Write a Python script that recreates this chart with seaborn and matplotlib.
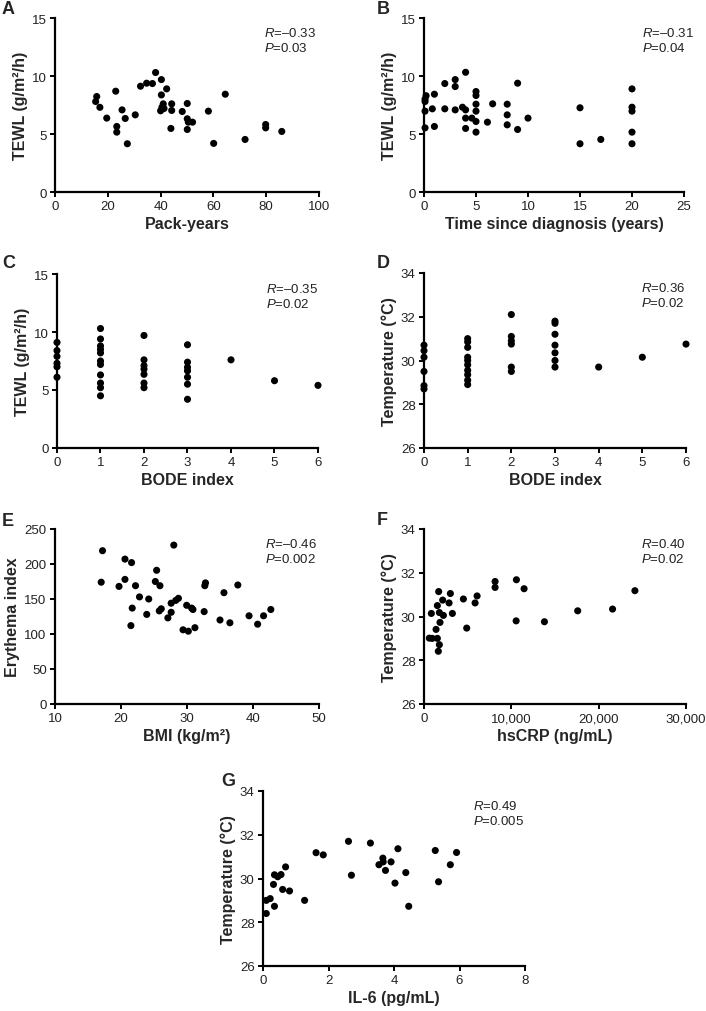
import seaborn as sns
import matplotlib
matplotlib.use("Agg")
import matplotlib.pyplot as plt
from matplotlib.ticker import FuncFormatter
import pandas as pd

# A: pack-years vs TEWL
pack_years = [15.8, 15.4, 17.0, 19.6, 23.0, 23.4, 23.4, 25.4, 26.6, 27.4, 30.4, 32.4, 34.7, 36.9, 38.1,
              40.3, 40.3, 42.3, 40.0, 40.5, 41.0, 41.3, 44.2, 44.2, 43.9, 48.2, 50.1, 50.1, 50.5, 50.1,
              52.1, 58.1, 60.1, 64.5, 72.0, 79.8, 79.8, 85.9]
tewl_a = [8.23, 7.8, 7.3, 6.37, 8.69, 5.65, 5.16, 7.08, 6.34, 4.16, 6.65, 9.12, 9.38, 9.35, 10.3,
          9.69, 8.37, 8.89, 7.0, 7.3, 7.6, 7.2, 7.6, 7.03, 5.48, 6.94, 7.63, 6.31, 6.02, 5.39,
          6.02, 6.97, 4.19, 8.43, 4.53, 5.82, 5.53, 5.22]

# B: time since diagnosis vs TEWL
years_dx = [0.2, 0.1, 0.1, 0.1, 0.1, 1, 0.8, 1, 2, 2, 3, 3, 3, 4, 3.7, 4, 4, 4, 4.6,
            5, 5, 5, 5, 5, 5, 6.1, 6.6, 8, 8, 8, 9, 9, 10, 15, 15, 17, 20, 20, 20, 20, 20]
tewl_b = [8.3, 8.0, 7.8, 6.97, 5.53, 8.43, 7.17, 5.65, 9.35, 7.17, 9.69, 9.09, 7.08, 10.32, 7.31,
          7.08, 6.37, 5.48, 6.37, 6.08, 8.66, 8.32, 7.57, 6.97, 5.16, 6.02, 7.6, 7.57, 6.65, 5.79,
          9.38, 5.39, 6.37, 7.26, 4.16, 4.53, 8.89, 7.31, 6.97, 5.16, 4.16]

# C: BODE index vs TEWL
bode_c = [0, 0, 0, 0, 0, 0,
          1, 1, 1, 1, 1, 1, 1, 1, 1, 1, 1,
          2, 2, 2, 2, 2, 2, 2,
          3, 3, 3, 3, 3, 3, 3,
          4, 5, 6]
tewl_c = [9.1, 8.4, 7.9, 7.3, 7.0, 6.1,
          10.3, 9.4, 8.8, 8.5, 8.2, 7.5, 7.2, 6.3, 5.6, 5.2, 4.5,
          9.7, 7.6, 7.1, 6.8, 6.35, 5.6, 5.2,
          8.9, 7.4, 6.95, 6.65, 6.1, 5.5, 4.2,
          7.6, 5.8, 5.4]

# D: BODE index vs temperature
bode_d = [0, 0, 0, 0, 0, 0,
          1, 1, 1, 1, 1, 1, 1, 1, 1, 1,
          2, 2, 2, 2, 2, 2,
          3, 3, 3, 3, 3, 3, 3,
          4, 5, 6]
temp_d = [30.7, 30.45, 30.15, 29.5, 28.85, 28.7,
          31.0, 30.85, 30.6, 30.15, 30.0, 29.8, 29.55, 29.35, 29.1, 28.9,
          32.1, 31.1, 30.9, 30.75, 29.7, 29.5,
          31.8, 31.7, 31.2, 30.7, 30.35, 30.0, 29.7,
          29.7, 30.15, 30.75]

# E: BMI vs erythema index
bmi = [17.2, 17.0, 19.7, 20.6, 20.6, 21.6, 22.2, 21.7, 21.5, 22.8, 24.2, 23.9, 25.4, 25.2, 25.9,
       25.8, 26.1, 28.0, 27.6, 28.3, 28.7, 27.6, 27.1, 29.95, 30.7, 30.9, 29.4, 30.2, 31.2, 32.6,
       32.7, 32.8, 35.0, 35.6, 36.5, 37.7, 39.4, 40.7, 41.6, 42.7]
erythema = [219, 174, 168, 207, 178, 202, 169, 137, 112, 153, 150, 128, 191, 175, 169,
            133, 136, 227, 144, 148, 151, 131, 123, 141, 137, 135, 106, 104, 109, 132,
            169, 173, 120, 159, 116, 170, 126, 114, 126, 135]

# F: hsCRP vs temperature
hscrp = [610, 950, 840, 1380, 1530, 1680, 1530, 1760, 1830, 1760, 1640, 2140, 2220, 2870, 3020,
         3250, 4510, 4890, 5850, 6080, 8140, 8140, 10580, 10550, 11460, 13790, 17600, 21590, 24150]
temp_f = [29.01, 29.0, 30.14, 29.41, 29.0, 31.14, 30.5, 30.18, 29.73, 28.71, 28.41, 30.75, 30.05, 30.62, 31.05,
          30.14, 30.8, 29.47, 30.62, 30.94, 31.6, 31.33, 31.68, 29.8, 31.27, 29.76, 30.26, 30.34, 31.18]

# G: IL-6 vs temperature
il6 = [0.10, 0.10, 0.22, 0.35, 0.32, 0.35, 0.45, 0.55, 0.69, 0.60, 0.81, 1.27, 1.62, 1.84, 2.61,
       2.70, 3.28, 3.54, 3.66, 3.67, 3.74, 3.91, 4.12, 4.03, 4.45, 4.36, 5.26, 5.36, 5.72, 5.91]
temp_g = [28.4, 29.0, 29.08, 28.73, 29.73, 30.17, 30.08, 30.18, 30.53, 29.5, 29.43, 29.0, 31.18, 31.08, 31.7,
          30.15, 31.62, 30.63, 30.93, 30.76, 30.37, 30.76, 31.36, 29.79, 28.73, 30.27, 31.28, 29.85, 30.63, 31.19]

sns.set_style("ticks")
plt.rcParams['font.family'] = ['Liberation Sans', 'DejaVu Sans']
plt.rcParams['mathtext.fontset'] = 'custom'
plt.rcParams['mathtext.rm'] = 'Liberation Sans'
plt.rcParams['mathtext.it'] = 'Liberation Sans:italic'

fig = plt.figure(figsize=(7.06, 10.12), dpi=100)
W, H = 706, 1012


def make_ax(x0, x1, y0, y1):
    # pixel box of the plotting area -> figure fraction
    return fig.add_axes([x0 / W, 1 - y1 / H, (x1 - x0) / W, (y1 - y0) / H])


def panel(ax, x, y, xlabel, ylabel, xlim, xticks, ylim, yticks, r, p, tx, letter, lpos):
    df = pd.DataFrame({"x": x, "y": y})
    sns.scatterplot(data=df, x="x", y="y", ax=ax, color="black", s=26,
                    edgecolor="none", clip_on=False, zorder=3)
    ax.set_xlim(*xlim)
    ax.set_ylim(*ylim)
    ax.set_xticks(xticks)
    ax.set_yticks(yticks)
    ax.set_xlabel(xlabel, fontsize=11.5, fontweight="bold", labelpad=3)
    ax.set_ylabel(ylabel, fontsize=11.5, fontweight="bold", labelpad=3)
    ax.tick_params(labelsize=9.5, length=3.5, width=1.4, pad=2.5, color="black", labelcolor="#222222")
    for s in ["left", "bottom"]:
        ax.spines[s].set_linewidth(1.6)
        ax.spines[s].set_color("black")
    sns.despine(ax=ax)
    ax.text(tx, 0.955, "$R$=" + r + "\n$P$=" + p, transform=ax.transAxes,
            fontsize=9.5, va="top", ha="left", linespacing=1.2, color="#222222")
    fig.text(lpos[0] / W, 1 - lpos[1] / H, letter, fontsize=13, fontweight="bold",
             va="top", ha="left")


tewl_lab = "TEWL (g/m\u00b2/h)"
temp_lab = "Temperature (\u00b0C)"

ax = make_ax(55, 319, 19, 193)
panel(ax, pack_years, tewl_a, "Pack-years", tewl_lab, (0, 100), [0, 20, 40, 60, 80, 100],
      (0, 15), [0, 5, 10, 15], "\u20130.33", "0.03", 0.79, "A", (2, 1))

ax = make_ax(424, 684, 19, 193)
panel(ax, years_dx, tewl_b, "Time since diagnosis (years)", tewl_lab, (0, 25), [0, 5, 10, 15, 20, 25],
      (0, 15), [0, 5, 10, 15], "\u20130.31", "0.04", 0.84, "B", (377, 1))

ax = make_ax(57, 318, 275, 449)
panel(ax, bode_c, tewl_c, "BODE index", tewl_lab, (0, 6), list(range(7)),
      (0, 15), [0, 5, 10, 15], "\u20130.35", "0.02", 0.80, "C", (2, 255))

ax = make_ax(424, 686, 274, 449)
panel(ax, bode_d, temp_d, "BODE index", temp_lab, (0, 6), list(range(7)),
      (26, 34), [26, 28, 30, 32, 34], "0.36", "0.02", 0.83, "D", (377, 255))

ax = make_ax(55, 319, 530, 705)
panel(ax, bmi, erythema, "BMI (kg/m\u00b2)", "Erythema index", (10, 50), [10, 20, 30, 40, 50],
      (0, 250), [0, 50, 100, 150, 200, 250], "\u20130.46", "0.002", 0.795, "E", (2, 513))

ax = make_ax(424, 686, 530, 705)
panel(ax, hscrp, temp_f, "hsCRP (ng/mL)", temp_lab, (0, 30000), [0, 10000, 20000, 30000],
      (26, 34), [26, 28, 30, 32, 34], "0.40", "0.02", 0.83, "F", (377, 512))
ax.xaxis.set_major_formatter(FuncFormatter(lambda v, _: f"{int(v):,}"))

ax = make_ax(263, 525, 792, 967)
panel(ax, il6, temp_g, "IL-6 (pg/mL)", temp_lab, (0, 8), [0, 2, 4, 6, 8],
      (26, 34), [26, 28, 30, 32, 34], "0.49", "0.005", 0.80, "G", (221, 773))

fig.savefig("out.png", dpi=100)
